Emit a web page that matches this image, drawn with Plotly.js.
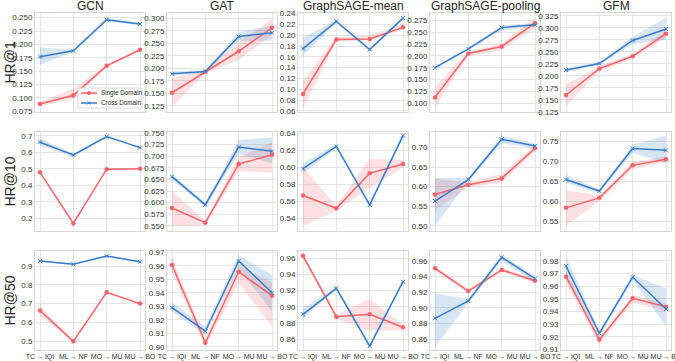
<!DOCTYPE html>
<html>
<head>
<meta charset="utf-8">
<script src="https://cdn.plot.ly/plotly-3.0.1.min.js"></script>
<style>
  html, body { margin: 0; padding: 0; background: #ffffff; }
  #chart { width: 675px; height: 361px; }
</style>
</head>
<body>
<div id="chart"></div>
<script>
  const models = ["GCN", "GAT", "GraphSAGE-mean", "GraphSAGE-pooling", "GFM"];
  const metrics = ["HR@1", "HR@10", "HR@50"];
  const transfers = ["TC\u2009\u2192\u2009IQI", "ML\u2009\u2192\u2009NF", "MO\u2009\u2192\u2009MU", "MU\u2009\u2192\u2009BO"];
  const seriesNames = ["Single Domain", "Cross Domain"];

  // HR@1, one row per model
  const hr1Single = [
    [0.0885, 0.105, 0.160, 0.190],
    [0.151, 0.193, 0.234, 0.281],
    [0.0915, 0.192, 0.193, 0.2145],
    [0.112, 0.205, 0.220, 0.2695],
    [0.160, 0.215, 0.2405, 0.2875]
  ];
  const hr1SingleLo = [
    [0.085, 0.097, 0.158, 0.188],
    [0.123, 0.190, 0.216, 0.266],
    [0.064, 0.189, 0.190, 0.210],
    [0.090, 0.200, 0.212, 0.260],
    [0.136, 0.210, 0.235, 0.280]
  ];
  const hr1SingleHi = [
    [0.093, 0.117, 0.162, 0.192],
    [0.180, 0.196, 0.252, 0.298],
    [0.116, 0.196, 0.200, 0.220],
    [0.134, 0.210, 0.226, 0.280],
    [0.182, 0.220, 0.246, 0.295]
  ];
  const hr1Cross = [
    [0.177, 0.188, 0.246, 0.238],
    [0.189, 0.1935, 0.2635, 0.271],
    [0.175, 0.2255, 0.1735, 0.2315],
    [0.175, 0.215, 0.260, 0.266],
    [0.212, 0.2255, 0.2735, 0.2975]
  ];
  const hr1CrossLo = [
    [0.162, 0.186, 0.243, 0.236],
    [0.185, 0.191, 0.255, 0.255],
    [0.162, 0.223, 0.171, 0.229],
    [0.172, 0.213, 0.254, 0.262],
    [0.207, 0.223, 0.266, 0.275]
  ];
  const hr1CrossHi = [
    [0.194, 0.190, 0.250, 0.240],
    [0.194, 0.196, 0.272, 0.285],
    [0.195, 0.228, 0.176, 0.234],
    [0.178, 0.217, 0.265, 0.270],
    [0.216, 0.228, 0.281, 0.321]
  ];

  // HR@10
  const hr10Single = [
    [0.479, 0.168, 0.498, 0.500],
    [0.5885, 0.557, 0.683, 0.703],
    [0.567, 0.552, 0.593, 0.604],
    [0.580, 0.605, 0.621, 0.698],
    [0.584, 0.609, 0.6905, 0.706]
  ];
  const hr10SingleLo = [
    [0.474, 0.163, 0.495, 0.497],
    [0.550, 0.552, 0.668, 0.665],
    [0.531, 0.549, 0.576, 0.600],
    [0.540, 0.598, 0.610, 0.690],
    [0.540, 0.600, 0.680, 0.700]
  ];
  const hr10SingleHi = [
    [0.484, 0.173, 0.501, 0.503],
    [0.625, 0.560, 0.698, 0.730],
    [0.600, 0.555, 0.610, 0.609],
    [0.620, 0.612, 0.632, 0.706],
    [0.628, 0.615, 0.700, 0.712]
  ];
  const hr10Cross = [
    [0.662, 0.584, 0.696, 0.629],
    [0.656, 0.5955, 0.7195, 0.7105],
    [0.5985, 0.6245, 0.556, 0.6373],
    [0.563, 0.618, 0.721, 0.704],
    [0.655, 0.626, 0.7327, 0.728]
  ];
  const hr10CrossLo = [
    [0.640, 0.574, 0.692, 0.625],
    [0.650, 0.591, 0.705, 0.685],
    [0.593, 0.622, 0.554, 0.635],
    [0.500, 0.613, 0.711, 0.698],
    [0.645, 0.622, 0.722, 0.695]
  ];
  const hr10CrossHi = [
    [0.683, 0.594, 0.700, 0.633],
    [0.662, 0.600, 0.735, 0.740],
    [0.605, 0.627, 0.558, 0.640],
    [0.622, 0.623, 0.731, 0.710],
    [0.666, 0.630, 0.742, 0.765]
  ];

  // HR@50
  const hr50Single = [
    [0.663, 0.498, 0.7595, 0.6995],
    [0.9605, 0.903, 0.9555, 0.9378],
    [0.963, 0.8877, 0.8906, 0.8745],
    [0.9506, 0.9215, 0.9485, 0.9347],
    [0.9674, 0.9177, 0.9503, 0.9437]
  ];
  const hr50SingleLo = [
    [0.635, 0.493, 0.755, 0.695],
    [0.955, 0.900, 0.947, 0.915],
    [0.960, 0.885, 0.870, 0.871],
    [0.948, 0.919, 0.946, 0.932],
    [0.962, 0.914, 0.947, 0.940]
  ];
  const hr50SingleHi = [
    [0.690, 0.503, 0.764, 0.704],
    [0.966, 0.906, 0.960, 0.948],
    [0.966, 0.890, 0.910, 0.878],
    [0.953, 0.924, 0.951, 0.937],
    [0.972, 0.920, 0.953, 0.946]
  ];
  const hr50Cross = [
    [0.927, 0.909, 0.953, 0.923],
    [0.929, 0.9115, 0.9635, 0.940],
    [0.8906, 0.9228, 0.8512, 0.931],
    [0.8865, 0.9087, 0.9647, 0.9373],
    [0.9758, 0.9227, 0.9671, 0.9419]
  ];
  const hr50CrossLo = [
    [0.924, 0.906, 0.950, 0.920],
    [0.926, 0.909, 0.958, 0.926],
    [0.885, 0.921, 0.849, 0.929],
    [0.850, 0.906, 0.960, 0.933],
    [0.968, 0.920, 0.965, 0.928]
  ];
  const hr50CrossHi = [
    [0.930, 0.912, 0.956, 0.926],
    [0.933, 0.915, 0.968, 0.953],
    [0.898, 0.925, 0.854, 0.933],
    [0.918, 0.912, 0.968, 0.941],
    [0.984, 0.925, 0.969, 0.958]
  ];

  const rows = [
    { single: hr1Single, sLo: hr1SingleLo, sHi: hr1SingleHi, cross: hr1Cross, cLo: hr1CrossLo, cHi: hr1CrossHi },
    { single: hr10Single, sLo: hr10SingleLo, sHi: hr10SingleHi, cross: hr10Cross, cLo: hr10CrossLo, cHi: hr10CrossHi },
    { single: hr50Single, sLo: hr50SingleLo, sHi: hr50SingleHi, cross: hr50Cross, cLo: hr50CrossLo, cHi: hr50CrossHi }
  ];

  // y axis settings per subplot: [min, max, dtick, format]
  const yAxes = [
    [[0.0737, 0.2587, 0.025, ".3f"], [0.1125, 0.3105, 0.025, ".3f"], [0.058, 0.241, 0.02, ".2f"], [0.081, 0.291, 0.025, ".3f"], [0.1247, 0.3306, 0.025, ".3f"]],
    [[0.122, 0.724, 0.1, ".1f"], [0.539, 0.752, 0.025, ".3f"], [0.5253, 0.6415, 0.02, ".2f"], [0.4865, 0.7397, 0.05, ".2f"], [0.526, 0.774, 0.05, ".2f"]],
    [[0.452, 0.98, 0.1, ".1f"], [0.8976, 0.9709, 0.01, ".2f"], [0.8464, 0.969, 0.02, ".2f"], [0.8459, 0.9728, 0.02, ".2f"], [0.9095, 0.9877, 0.01, ".2f"]]
  ];

  const W = 675, H = 361;
  const colLeft = [35, 167, 298, 430, 561];
  const colWidth = 110;
  const rowTop = [13, 132, 251];
  const rowHeight = 99;

  const RED = "#f5636b";
  const BLUE = "#3a7cc4";
  const RED_FILL = "rgba(245, 99, 107, 0.2)";
  const BLUE_FILL = "rgba(58, 124, 196, 0.2)";
  const FONT = "Liberation Sans, Arial, sans-serif";

  const px = (x) => x / W;
  const py = (y) => 1 - y / H;

  const traces = [];
  const layout = {
    width: W,
    height: H,
    margin: { l: 0, r: 0, t: 0, b: 0 },
    paper_bgcolor: "#ffffff",
    plot_bgcolor: "#ffffff",
    font: { family: FONT, color: "#262626" },
    showlegend: false,
    annotations: [],
    shapes: []
  };

  function axisName(k, letter) {
    return k === 1 ? letter + "axis" : letter + "axis" + k;
  }

  function bandTraces(xa, ya, lo, hi, fill) {
    return [
      {
        type: "scatter", mode: "lines", x: transfers, y: lo, xaxis: xa, yaxis: ya,
        line: { width: 0, color: fill }, hoverinfo: "skip"
      },
      {
        type: "scatter", mode: "lines", x: transfers, y: hi, xaxis: xa, yaxis: ya,
        line: { width: 0, color: fill }, fill: "tonexty", fillcolor: fill,
        hoverinfo: "skip"
      }
    ];
  }

  rows.forEach((row, r) => {
    models.forEach((model, c) => {
      const k = r * 5 + c + 1;
      const xa = k === 1 ? "x" : "x" + k;
      const ya = k === 1 ? "y" : "y" + k;
      const [ymin, ymax, dtick, fmt] = yAxes[r][c];

      traces.push(...bandTraces(xa, ya, row.sLo[c], row.sHi[c], RED_FILL));
      traces.push(...bandTraces(xa, ya, row.cLo[c], row.cHi[c], BLUE_FILL));

      traces.push({
        type: "scatter", mode: "lines+markers", name: seriesNames[0],
        x: transfers, y: row.single[c], xaxis: xa, yaxis: ya,
        line: { color: RED, width: 1.5 },
        marker: { symbol: "circle", size: 4.5, color: RED }
      });
      traces.push({
        type: "scatter", mode: "lines+markers", name: seriesNames[1],
        x: transfers, y: row.cross[c], xaxis: xa, yaxis: ya,
        line: { color: BLUE, width: 1.5 },
        marker: { symbol: "x-thin", size: 4, color: BLUE, line: { color: BLUE, width: 1 } }
      });

      const common = {
        showgrid: true,
        gridcolor: "#e5e5e5",
        gridwidth: 1,
        zeroline: false,
        showline: true,
        mirror: true,
        linecolor: "#d6d6d6",
        linewidth: 1,
        ticks: ""
      };

      layout[axisName(k, "x")] = {
        ...common,
        domain: [px(colLeft[c]), px(colLeft[c] + colWidth)],
        anchor: ya,
        type: "category",
        categoryorder: "array",
        categoryarray: transfers,
        range: [-0.15, 3.15],
        tickangle: 0,
        tickfont: { size: 7, color: "#333333", family: FONT },
        showticklabels: r === 2
      };
      layout[axisName(k, "y")] = {
        ...common,
        domain: [py(rowTop[r] + rowHeight), py(rowTop[r])],
        anchor: xa,
        range: [ymin, ymax],
        tick0: 0,
        dtick: dtick,
        tickformat: fmt,
        tickfont: { size: 8, color: "#333333", family: FONT }
      };
    });
  });

  models.forEach((model, c) => {
    layout.annotations.push({
      text: model,
      xref: "paper", yref: "paper",
      x: px(colLeft[c] + colWidth / 2),
      y: py(6),
      xanchor: "center", yanchor: "middle",
      showarrow: false,
      font: { size: 12, color: "#262626", family: FONT }
    });
  });

  metrics.forEach((m, r) => {
    layout.annotations.push({
      text: m,
      xref: "paper", yref: "paper",
      x: px(9),
      y: py(rowTop[r] + rowHeight / 2),
      xanchor: "center", yanchor: "middle",
      textangle: -90,
      showarrow: false,
      font: { size: 14, color: "#262626", family: FONT }
    });
  });

  // compact legend box inside the first panel (lower right)
  const legBox = { x0: 78, x1: 142, y0: 88, y1: 108 };
  const legColors = [RED, BLUE];
  layout.shapes.push({
    type: "rect", xref: "paper", yref: "paper", layer: "above",
    x0: px(legBox.x0), x1: px(legBox.x1), y0: py(legBox.y1), y1: py(legBox.y0),
    fillcolor: "rgba(255,255,255,0.85)", line: { color: "#d9d9d9", width: 1 }
  });
  seriesNames.forEach((name, i) => {
    const yy = legBox.y0 + 5 + i * 10;
    const col = legColors[i];
    layout.shapes.push({
      type: "line", xref: "paper", yref: "paper", layer: "above",
      x0: px(81), x1: px(97), y0: py(yy), y1: py(yy),
      line: { color: col, width: 1.5 }
    });
    if (i === 0) {
      layout.shapes.push({
        type: "circle", xref: "paper", yref: "paper", layer: "above",
        x0: px(87), x1: px(91), y0: py(yy + 2), y1: py(yy - 2),
        fillcolor: col, line: { color: col, width: 0 }
      });
    } else {
      layout.shapes.push({
        type: "line", xref: "paper", yref: "paper", layer: "above",
        x0: px(87.5), x1: px(90.5), y0: py(yy - 1.5), y1: py(yy + 1.5),
        line: { color: col, width: 1 }
      });
      layout.shapes.push({
        type: "line", xref: "paper", yref: "paper", layer: "above",
        x0: px(87.5), x1: px(90.5), y0: py(yy + 1.5), y1: py(yy - 1.5),
        line: { color: col, width: 1 }
      });
    }
    layout.annotations.push({
      text: name,
      xref: "paper", yref: "paper",
      x: px(99), y: py(yy),
      xanchor: "left", yanchor: "middle",
      showarrow: false,
      font: { size: 6.3, color: "#262626", family: FONT }
    });
  });

  Plotly.newPlot("chart", traces, layout, { displayModeBar: false, staticPlot: true });
</script>
</body>
</html>
